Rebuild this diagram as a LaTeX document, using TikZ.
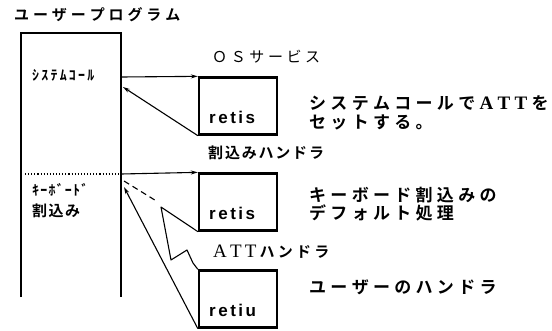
\documentclass[tikz,border=0pt]{standalone}
\usepackage{fontspec}
\usetikzlibrary{arrows.meta}
\newfontfamily\jp{Noto Sans CJK JP}
\newfontfamily\jpb{Noto Sans CJK JP Bold}
\newfontfamily\ser{Liberation Serif}
\newfontfamily\rs{Liberation Sans}
\makeatletter
\def\spc#1#2{\def\spc@amt{#1}\spc@loop#2\spc@end}
\def\spc@end{\spc@end}
\def\spc@loop#1{\ifx\spc@end#1\else#1\hskip\spc@amt\relax\expandafter\spc@loop\fi}
\makeatother
\newcommand\serA[1]{{\ser\fontsize{19pt}{20pt}\selectfont #1}}
\newcommand\serB[1]{{\ser\bfseries\fontsize{19pt}{20pt}\selectfont #1}}
\begin{document}
\begin{tikzpicture}[x=1pt,y=-1pt,
  bx/.style={draw, line width=2.3pt, minimum width=78pt, minimum height=57pt, inner sep=0pt},
  conn/.style={line width=1.1pt, line join=round},
  arr/.style={conn, -{Stealth[length=7pt,width=4pt]}},
  lbl/.style={anchor=west, inner sep=0pt, font=\jpb\fontsize{15pt}{18pt}\selectfont},
  big/.style={anchor=west, inner sep=0pt, font=\jpb\fontsize{17pt}{20pt}\selectfont},
  hw/.style={anchor=west, inner sep=0pt, font=\jpb\fontsize{14pt}{16pt}\selectfont},
  ret/.style={anchor=west, inner sep=0pt, font=\rs\bfseries\fontsize{17pt}{20pt}\selectfont}]
\useasboundingbox (0,0) rectangle (552,330);
% left program box (open at bottom)
\draw[line width=2.3pt] (21,297) -- (21,33) -- (121,33) -- (121,297);
\draw[line width=1.1pt, dotted] (25,174) -- (119,174);
% boxes
\node[bx] (b1) at (238,106) {};
\node[bx] (b2) at (238,202) {};
\node[bx] (b3) at (238,299) {};
% attachment points on program box
\coordinate (ua) at (121,77);
\coordinate (ub) at (123,87);
\coordinate (uc) at (121,174);
\coordinate (ud) at (124,181);
\coordinate (ue) at (124,187);
\coordinate (d1) at (158,202);
\coordinate (l1) at (161,207);
\coordinate (l2) at (171,260);
\coordinate (l3) at (187,250);
\coordinate (l4) at (193,263);
% connectors
\draw[arr] (ua) -- (b1.north west);
\draw[arr] (b1.south west) -- (ub);
\draw[arr] (uc) -- (b2.north west);
\draw[conn, dash pattern=on 6pt off 4pt] (ud) -- (d1);
\draw[conn] (b2.south west) -- (l1) -- (l2) -- (l3) -- (l4) -- (b3.north west);
\draw[arr] (b3.south west) -- (ue);
% texts
\node[lbl] (t0) at (14,15) {\spc{3.9pt}{ユーザープログラム}};
\node[lbl, font=\jp\fontsize{15pt}{18pt}\selectfont] (t1) at (212,57) {\spc{3.6pt}{ＯＳサービス}};
\node[hw] (k1) at (32,75) {\spc{2.2pt}{ｼｽﾃﾑｺｰﾙ}};
\node[hw] (k2) at (32,190) {\spc{1.2pt}{ｷｰﾎﾞｰﾄﾞ}};
\node[lbl] (k3) at (32,211) {\spc{1.5pt}{割込み}};
\node[ret] (r1) at (209,117) {\spc{2.5pt}{retis}};
\node[ret] (r2) at (209,213) {\spc{2.5pt}{retis}};
\node[ret] (r3) at (209,310) {\spc{2.5pt}{retiu}};
\node[lbl] (t2) at (208,153) {\spc{1.8pt}{割込みハンドラ}};
\node[lbl] (t3) at (213,252) {\spc{3.2pt}{{\serA{A}}{\serA{T}}{\serA{T}}ハンドラ}};
\node[big] (c1) at (309,103) {\spc{4.3pt}{システムコールで{\serB{A}}{\serB{T}}{\serB{T}}を}};
\node[big] (c2) at (309,122) {\spc{4.3pt}{セットする。}};
\node[big] (c3) at (309,195) {\spc{4.3pt}{キーボード割込みの}};
\node[big] (c4) at (309,213) {\spc{4.3pt}{デフォルト処理}};
\node[big] (c5) at (309,287) {\spc{4.3pt}{ユーザーのハンドラ}};
\end{tikzpicture}
\end{document}
